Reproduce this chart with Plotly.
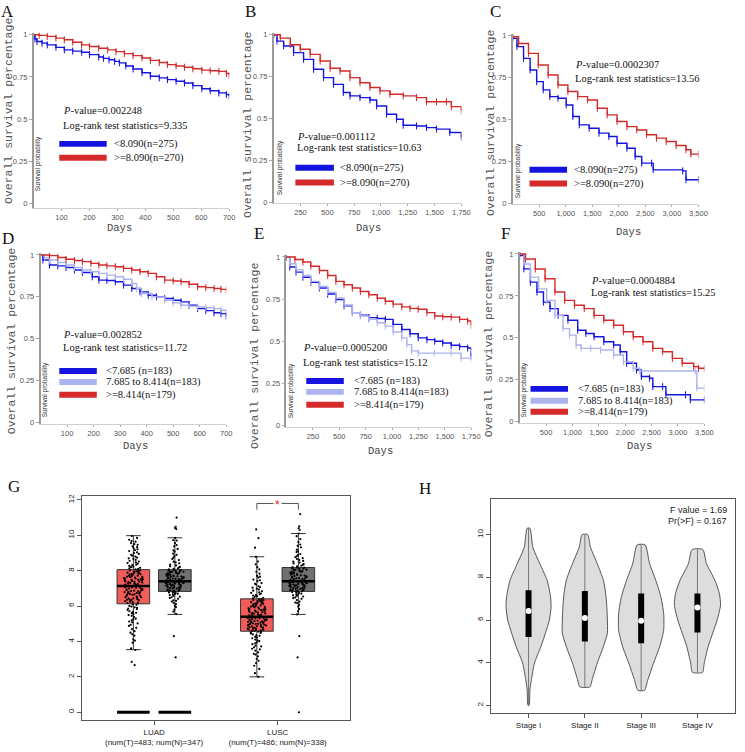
import plotly.graph_objects as go

W, H = 745, 752

# ---------------- DATA ----------------
# Kaplan-Meier curves (days, survival)
A_low_days = [0, 5, 12, 30, 49, 80, 110, 140, 172, 200, 233, 250, 270, 290, 307, 330, 356, 388, 418, 450, 479, 510, 540, 570, 602, 632, 663, 690, 700]
A_low_surv = [1.0, 0.975, 0.96, 0.95, 0.94, 0.925, 0.91, 0.903, 0.896, 0.882, 0.868, 0.86, 0.852, 0.842, 0.833, 0.815, 0.797, 0.775, 0.754, 0.744, 0.734, 0.724, 0.714, 0.698, 0.68, 0.668, 0.655, 0.645, 0.636]
A_high_days = [0, 20, 49, 80, 110, 140, 172, 200, 233, 265, 295, 325, 356, 388, 418, 450, 479, 510, 540, 570, 602, 632, 663, 690, 700]
A_high_surv = [1.0, 0.996, 0.99, 0.98, 0.97, 0.955, 0.94, 0.93, 0.92, 0.91, 0.90, 0.888, 0.876, 0.862, 0.848, 0.835, 0.823, 0.815, 0.807, 0.798, 0.79, 0.786, 0.783, 0.77, 0.758]

B_low_days = [0, 31, 93, 186, 279, 372, 465, 558, 650, 712, 805, 898, 960, 1053, 1146, 1208, 1332, 1425, 1518, 1642, 1750]
B_low_surv = [1.0, 0.962, 0.933, 0.893, 0.853, 0.794, 0.744, 0.704, 0.655, 0.635, 0.625, 0.611, 0.575, 0.526, 0.496, 0.46, 0.456, 0.446, 0.437, 0.417, 0.387]
B_high_days = [0, 62, 155, 248, 341, 434, 527, 620, 712, 805, 898, 991, 1084, 1208, 1332, 1425, 1518, 1611, 1657, 1750]
B_high_surv = [1.0, 0.98, 0.94, 0.913, 0.883, 0.843, 0.80, 0.784, 0.744, 0.714, 0.685, 0.665, 0.645, 0.635, 0.625, 0.60, 0.60, 0.60, 0.571, 0.546]

C_low_days = [0, 80, 204, 328, 451, 575, 699, 853, 1008, 1132, 1255, 1441, 1626, 1812, 1966, 2152, 2307, 2430, 2616, 2647, 3203, 3265, 3500]
C_low_surv = [0.984, 0.935, 0.865, 0.796, 0.726, 0.677, 0.637, 0.627, 0.587, 0.518, 0.468, 0.448, 0.419, 0.399, 0.359, 0.329, 0.28, 0.24, 0.24, 0.20, 0.194, 0.141, 0.141]
C_high_days = [0, 111, 297, 482, 668, 853, 1039, 1224, 1410, 1595, 1781, 1966, 2152, 2337, 2523, 2709, 2894, 3080, 3265, 3358, 3500]
C_high_surv = [0.994, 0.954, 0.895, 0.825, 0.766, 0.706, 0.667, 0.637, 0.617, 0.567, 0.528, 0.488, 0.458, 0.438, 0.409, 0.389, 0.369, 0.345, 0.32, 0.294, 0.294]

D_low_days = [0, 9, 34, 65, 96, 128, 158, 195, 220, 250, 282, 313, 344, 375, 406, 437, 468, 500, 530, 560, 592, 623, 654, 680, 700]
D_low_surv = [1.0, 0.97, 0.94, 0.935, 0.925, 0.91, 0.895, 0.87, 0.85, 0.848, 0.84, 0.82, 0.80, 0.78, 0.76, 0.75, 0.74, 0.73, 0.72, 0.70, 0.68, 0.668, 0.655, 0.65, 0.635]
D_mid_days = [0, 15, 34, 65, 96, 128, 158, 190, 220, 250, 282, 313, 344, 362, 381, 420, 468, 500, 530, 560, 592, 623, 654, 680, 700]
D_mid_surv = [1.0, 0.985, 0.97, 0.955, 0.94, 0.925, 0.91, 0.9, 0.89, 0.88, 0.87, 0.855, 0.83, 0.8, 0.77, 0.75, 0.73, 0.715, 0.70, 0.695, 0.69, 0.685, 0.68, 0.67, 0.655]
D_high_days = [0, 34, 65, 96, 128, 158, 190, 220, 250, 282, 313, 344, 375, 406, 437, 468, 500, 530, 560, 592, 623, 654, 680, 700]
D_high_surv = [1.0, 0.996, 0.985, 0.974, 0.967, 0.96, 0.95, 0.94, 0.935, 0.93, 0.92, 0.91, 0.9, 0.89, 0.87, 0.85, 0.845, 0.84, 0.825, 0.81, 0.805, 0.80, 0.795, 0.79]

E_low_days = [0, 31, 90, 156, 230, 312, 390, 468, 545, 624, 700, 780, 860, 936, 1010, 1092, 1170, 1248, 1330, 1404, 1480, 1560, 1640, 1716, 1750]
E_low_surv = [1.0, 0.94, 0.91, 0.88, 0.85, 0.816, 0.78, 0.747, 0.71, 0.67, 0.655, 0.64, 0.635, 0.63, 0.60, 0.57, 0.545, 0.52, 0.51, 0.50, 0.49, 0.476, 0.468, 0.46, 0.41]
E_mid_days = [0, 31, 90, 156, 230, 312, 390, 468, 545, 624, 700, 780, 860, 936, 1010, 1092, 1140, 1185, 1248, 1400, 1560, 1653, 1750]
E_mid_surv = [1.0, 0.96, 0.925, 0.89, 0.855, 0.825, 0.79, 0.757, 0.715, 0.67, 0.65, 0.63, 0.61, 0.59, 0.555, 0.52, 0.48, 0.443, 0.43, 0.43, 0.43, 0.40, 0.395]
E_high_days = [0, 80, 156, 230, 312, 390, 468, 545, 624, 700, 780, 860, 936, 1010, 1092, 1170, 1248, 1330, 1404, 1480, 1560, 1640, 1716, 1750]
E_high_surv = [1.0, 0.985, 0.97, 0.945, 0.92, 0.89, 0.855, 0.835, 0.816, 0.795, 0.776, 0.755, 0.737, 0.72, 0.704, 0.695, 0.69, 0.67, 0.65, 0.645, 0.643, 0.63, 0.62, 0.595]

F_low_days = [0, 80, 204, 328, 451, 575, 730, 915, 1101, 1255, 1410, 1595, 1781, 1905, 2028, 2214, 2307, 2461, 2523, 2709, 2771, 3142, 3235, 3500]
F_low_surv = [0.99, 0.911, 0.832, 0.773, 0.713, 0.674, 0.634, 0.605, 0.545, 0.526, 0.506, 0.476, 0.457, 0.417, 0.348, 0.308, 0.269, 0.259, 0.209, 0.209, 0.16, 0.16, 0.13, 0.13]
F_mid_days = [0, 80, 204, 359, 513, 668, 822, 946, 1070, 1163, 1348, 1533, 1781, 1966, 2152, 2276, 3327, 3358, 3500]
F_mid_surv = [1.0, 0.94, 0.862, 0.792, 0.723, 0.634, 0.555, 0.516, 0.457, 0.437, 0.437, 0.427, 0.397, 0.358, 0.318, 0.302, 0.302, 0.20, 0.20]
F_high_days = [0, 111, 297, 482, 668, 853, 1039, 1224, 1410, 1595, 1781, 1966, 2152, 2337, 2523, 2709, 2894, 3080, 3296, 3389, 3500]
F_high_surv = [1.0, 0.97, 0.91, 0.852, 0.773, 0.723, 0.694, 0.674, 0.634, 0.605, 0.575, 0.536, 0.506, 0.476, 0.437, 0.417, 0.377, 0.348, 0.328, 0.318, 0.318]

two_group_labels = ["<8.090(n=275)", ">=8.090(n=270)"]
three_group_labels = ["<7.685 (n=183)", "7.685 to 8.414(n=183)", ">=8.414(n=179)"]
p_values = ["0.002248", "0.001112", "0.0002307", "0.002852", "0.0005200", "0.0004884"]
logrank_stats = ["9.335", "10.63", "13.56", "11.72", "15.12", "15.25"]
km_xticks_700 = [100, 200, 300, 400, 500, 600, 700]
km_xticks_1750 = [250, 500, 750, 1000, 1250, 1500, 1750]
km_xticks_3500 = [500, 1000, 1500, 2000, 2500, 3000, 3500]
km_yticks = [0, 0.25, 0.5, 0.75, 1]
km_yticktext = ["0", "0.25", "0.5", "0.75", "1"]

# Panel G: box statistics (tumor / normal) for LUAD, LUSC
G_cancers = ["LUAD", "LUSC"]
G_cancer_labels = ["LUAD<br>(num(T)=483; num(N)=347)", "LUSC<br>(num(T)=486; num(N)=338)"]
G_T_q1 = [6.13, 4.58]; G_T_med = [7.14, 5.40]; G_T_q3 = [8.06, 6.41]; G_T_lo = [3.54, 2.00]; G_T_hi = [9.98, 8.79]
G_N_q1 = [6.83, 6.83]; G_N_med = [7.41, 7.41]; G_N_q3 = [8.06, 8.18]; G_N_lo = [5.53, 5.53]; G_N_hi = [9.86, 10.10]
G_zero_groups = ["LUAD"]  # both boxes of LUAD show a bar at 0
LUAD_T_vals = [2.66, 2.85, 3.52, 3.61, 3.93, 4.12, 4.33, 4.41, 4.58, 4.7, 4.77, 4.94, 5.02, 5.13, 5.2, 5.29, 5.38, 5.49, 5.55, 5.66,
               5.71, 5.83, 5.9, 5.97, 6.07, 6.15, 6.2, 6.24, 6.31, 6.33, 6.39, 6.42, 6.48, 6.51, 6.56, 6.6, 6.64, 6.69, 6.72, 6.77,
               6.8, 6.85, 6.88, 6.93, 6.96, 7.01, 7.03, 7.08, 7.1, 7.13, 7.16, 7.21, 7.23, 7.28, 7.31, 7.35, 7.38, 7.42, 7.45, 7.49,
               7.52, 7.56, 7.59, 7.63, 7.66, 7.71, 7.73, 7.78, 7.81, 7.86, 7.89, 7.94, 7.97, 8.02, 8.05, 8.11, 8.16, 8.23, 8.27, 8.34,
               8.4, 8.47, 8.52, 8.61, 8.67, 8.74, 8.8, 8.89, 8.95, 9.04, 9.11, 9.21, 9.28, 9.38, 9.46, 9.56, 9.64, 9.75, 9.85, 9.96,
               5.45, 5.62, 5.78, 5.86, 5.93, 6.01, 6.1, 6.17, 6.22, 6.28, 6.35, 6.37, 6.44, 6.5, 6.54, 6.62, 6.66, 6.71, 6.74, 6.79,
               6.83, 6.87, 6.91, 6.95, 6.99, 7.05, 7.09, 7.12, 7.15, 7.19, 7.25, 7.29, 7.33, 7.37, 7.4, 7.44, 7.47, 7.51, 7.54, 7.58,
               7.61, 7.65, 7.68, 7.72, 7.75, 7.8, 7.84, 7.88, 7.91, 7.96, 8.0, 8.08, 8.14, 8.2, 8.31, 8.43, 8.56, 8.7, 8.85, 9.0,
               9.16, 9.33, 9.5, 9.68, 4.05, 4.5, 4.88, 5.08, 5.25, 5.6]
LUAD_N_vals = [3.1, 4.3, 5.55, 5.69, 5.8, 5.94, 6.02, 6.11, 6.18, 6.26, 6.33, 6.41, 6.46, 6.53, 6.58, 6.64, 6.68, 6.73, 6.77, 6.81,
               6.85, 6.89, 6.92, 6.96, 6.98, 7.03, 7.05, 7.09, 7.11, 7.15, 7.17, 7.21, 7.23, 7.27, 7.29, 7.32, 7.33, 7.36, 7.37, 7.4,
               7.43, 7.47, 7.5, 7.54, 7.56, 7.61, 7.63, 7.67, 7.69, 7.73, 7.75, 7.8, 7.82, 7.87, 7.89, 7.93, 7.95, 7.99, 8.01, 8.04,
               8.1, 8.18, 8.25, 8.34, 8.42, 8.51, 8.6, 8.72, 8.82, 8.96, 9.08, 9.23, 9.38, 9.56, 9.72, 9.85, 10.35, 10.42, 10.48, 11.0,
               6.3, 6.5, 6.62, 6.7, 6.76, 6.83, 6.87, 6.9, 6.94, 7.0, 7.04, 7.07, 7.13, 7.16, 7.19, 7.22, 7.25, 7.28, 7.3, 7.34,
               7.38, 7.42, 7.45, 7.48, 7.52, 7.55, 7.58, 7.62, 7.65, 7.68, 7.71, 7.74, 7.78, 7.81, 7.85, 7.88, 7.91, 7.94, 7.97, 8.03,
               8.07, 8.14, 8.22, 8.3, 8.47, 8.66, 8.9, 9.15, 9.45, 9.7]
LUSC_T_vals = [2.0, 2.21, 2.45, 2.63, 2.78, 2.91, 3.02, 3.16, 3.26, 3.38, 3.48, 3.59, 3.67, 3.77, 3.85, 3.95, 4.02, 4.11, 4.18, 4.26,
               4.32, 4.4, 4.45, 4.52, 4.56, 4.6, 4.64, 4.67, 4.71, 4.73, 4.78, 4.8, 4.85, 4.87, 4.91, 4.94, 4.98, 5.0, 5.05, 5.07,
               5.11, 5.14, 5.18, 5.2, 5.25, 5.27, 5.31, 5.33, 5.37, 5.39, 5.43, 5.48, 5.51, 5.56, 5.59, 5.64, 5.67, 5.72, 5.75, 5.8,
               5.83, 5.88, 5.91, 5.96, 5.99, 6.04, 6.07, 6.13, 6.16, 6.21, 6.24, 6.29, 6.32, 6.37, 6.4, 6.47, 6.56, 6.62, 6.71, 6.78,
               6.87, 6.94, 7.04, 7.12, 7.22, 7.3, 7.41, 7.5, 7.61, 7.71, 7.83, 7.94, 8.07, 8.2, 8.36, 8.52, 8.78, 9.3, 9.84, 10.33,
               3.3, 3.55, 3.72, 3.9, 4.06, 4.22, 4.35, 4.48, 4.54, 4.59, 4.62, 4.66, 4.69, 4.72, 4.75, 4.79, 4.83, 4.86, 4.89, 4.92,
               4.96, 4.99, 5.02, 5.06, 5.09, 5.12, 5.16, 5.19, 5.22, 5.26, 5.29, 5.32, 5.35, 5.38, 5.41, 5.45, 5.49, 5.53, 5.57, 5.61,
               5.65, 5.69, 5.73, 5.77, 5.81, 5.85, 5.89, 5.93, 5.97, 6.01, 6.05, 6.1, 6.14, 6.18, 6.22, 6.26, 6.3, 6.34, 6.38, 6.44,
               6.52, 6.6, 6.67, 6.75, 6.84, 6.98, 7.08, 7.26, 7.46, 7.66]
LUSC_N_vals = [0.0, 3.1, 4.3, 5.53, 5.71, 5.84, 5.97, 6.07, 6.17, 6.25, 6.34, 6.41, 6.49, 6.54, 6.61, 6.65, 6.71, 6.74, 6.79, 6.81,
               6.85, 6.89, 6.91, 6.95, 6.97, 7.01, 7.03, 7.07, 7.09, 7.13, 7.15, 7.19, 7.21, 7.25, 7.27, 7.31, 7.33, 7.36, 7.37, 7.4,
               7.44, 7.49, 7.52, 7.57, 7.6, 7.65, 7.68, 7.73, 7.76, 7.81, 7.84, 7.89, 7.92, 7.97, 8.0, 8.05, 8.08, 8.12, 8.14, 8.17,
               8.24, 8.33, 8.41, 8.51, 8.6, 8.71, 8.81, 8.94, 9.05, 9.19, 9.32, 9.48, 9.62, 9.79, 9.95, 10.1, 10.3, 10.4, 10.5, 11.2,
               6.2, 6.45, 6.58, 6.68, 6.76, 6.83, 6.87, 6.9, 6.93, 6.99, 7.02, 7.05, 7.1, 7.14, 7.17, 7.2, 7.23, 7.26, 7.29, 7.32,
               7.39, 7.42, 7.46, 7.5, 7.54, 7.58, 7.62, 7.66, 7.7, 7.74, 7.78, 7.82, 7.86, 7.9, 7.94, 7.98, 8.02, 8.06, 8.1, 8.16,
               8.2, 8.28, 8.37, 8.46, 8.55, 8.66, 8.76, 8.88, 9.1, 9.4]
G_yticks = [0, 2, 4, 6, 8, 10, 12]

# Panel H: violin outlines (expression level, half width) per stage
H_stages = ["Stage I", "Stage II", "Stage III", "Stage IV"]
H_levels = [
    [2.0, 2.74, 3.21, 3.98, 4.76, 5.38, 6.0, 6.62, 7.09, 7.86, 8.64, 9.41, 10.3],
    [2.87, 3.21, 3.98, 4.76, 5.38, 6.0, 6.62, 7.24, 7.86, 8.64, 9.41, 10.0],
    [2.71, 3.21, 3.98, 4.76, 5.53, 6.31, 7.09, 7.86, 8.64, 9.52],
    [3.55, 3.98, 4.76, 5.38, 6.0, 6.7, 7.24, 7.86, 8.64, 9.3],
]
H_halfwidths = [
    [0.01, 0.025, 0.05, 0.105, 0.22, 0.30, 0.37, 0.40, 0.39, 0.33, 0.20, 0.076, 0.025],
    [0.09, 0.13, 0.22, 0.33, 0.40, 0.40, 0.39, 0.37, 0.33, 0.22, 0.10, 0.05],
    [0.06, 0.12, 0.22, 0.33, 0.40, 0.40, 0.35, 0.26, 0.15, 0.07],
    [0.09, 0.12, 0.19, 0.27, 0.35, 0.41, 0.39, 0.31, 0.16, 0.095],
]
H_q1 = [5.2, 4.99, 4.91, 5.41]
H_q3 = [7.4, 7.36, 7.24, 7.24]
H_median = [6.42, 6.1, 5.97, 6.59]
H_yticks = [2, 4, 6, 8, 10]
H_stat_lines = ["F value = 1.69", "Pr(>F) = 0.167"]

panel_letters = ["A", "B", "C", "D", "E", "F", "G", "H"]

# ---------------- STYLE / LAYOUT ----------------
BLUE = "#1414e0"
RED = "#d42a2a"
LIGHT = "#adb3ee"
SERIF = "Liberation Serif"
SANS = "Liberation Sans"
MONO = "Liberation Mono"


def fx(px):
    return px / W


def fy(py):
    return 1 - py / H


fig = go.Figure()
annotations = []
shapes = []

km_panels = [
    dict(x0=34, x1=232, y1=33, y0=203, yb=208, xmax=700, xt=km_xticks_700,
         curves=[(A_low_days, A_low_surv, BLUE), (A_high_days, A_high_surv, RED)],
         labels=two_group_labels, colors=[BLUE, RED],
         ptxt=(62, 109, 124), leg=(60, 108, 113, [143, 157]),
         ytitle=(8, 110), days=(121, 228), sp=(38, 163)),
    dict(x0=277, x1=467, y1=33, y0=202, yb=203, xmax=1750, xt=km_xticks_1750,
         curves=[(B_low_days, B_low_surv, BLUE), (B_high_days, B_high_surv, RED)],
         labels=two_group_labels, colors=[BLUE, RED],
         ptxt=(299, 136, 147), leg=(299, 338, 342, [167, 182]),
         ytitle=(250, 124), days=(373, 228), sp=(283, 167)),
    dict(x0=519, x1=707, y1=34, y0=203, yb=204, xmax=3500, xt=km_xticks_3500,
         curves=[(C_low_days, C_low_surv, BLUE), (C_high_days, C_high_surv, RED)],
         labels=two_group_labels, colors=[BLUE, RED],
         ptxt=(580, 63, 77), leg=(536, 574, 579, [169, 183]),
         ytitle=(496, 122), days=(636, 232), sp=(524, 170)),
    dict(x0=41, x1=229, y1=255, y0=424, yb=425, xmax=700, xt=km_xticks_700,
         curves=[(D_low_days, D_low_surv, BLUE), (D_mid_days, D_mid_surv, LIGHT), (D_high_days, D_high_surv, RED)],
         labels=three_group_labels, colors=[BLUE, LIGHT, RED],
         ptxt=(62, 335, 348), leg=(60, 98, 105, [372, 383, 396]),
         ytitle=(11, 342), days=(137, 448), sp=(45, 391)),
    dict(x0=290, x1=477, y1=257, y0=427, yb=428, xmax=1750, xt=km_xticks_1750,
         curves=[(E_low_days, E_low_surv, BLUE), (E_mid_days, E_mid_surv, LIGHT), (E_high_days, E_high_surv, RED)],
         labels=three_group_labels, colors=[BLUE, LIGHT, RED],
         ptxt=(305, 348, 363), leg=(310, 348, 356, [382, 393, 406]),
         ytitle=(257, 357), days=(385, 453), sp=(294, 392)),
    dict(x0=526, x1=713, y1=254, y0=423, yb=424, xmax=3500, xt=km_xticks_3500,
         curves=[(F_low_days, F_low_surv, BLUE), (F_mid_days, F_mid_surv, LIGHT), (F_high_days, F_high_surv, RED)],
         labels=three_group_labels, colors=[BLUE, LIGHT, RED],
         ptxt=(596, 281, 293), leg=(537, 575, 583, [390, 402, 413]),
         ytitle=(494, 345), days=(647, 448), sp=(530, 391)),
]

layout_axes = {}
for i, p in enumerate(km_panels):
    n = i + 1
    xa = "xaxis" if n == 1 else f"xaxis{n}"
    ya = "yaxis" if n == 1 else f"yaxis{n}"
    xr = "x" if n == 1 else f"x{n}"
    yr = "y" if n == 1 else f"y{n}"
    scale = p["y0"] - p["y1"]
    ymin = -(p["yb"] - p["y0"]) / scale
    ytop = p["y1"] - 0.012 * scale
    layout_axes[xa] = dict(domain=[fx(p["x0"]), fx(p["x1"])], range=[0, p["xmax"]], anchor=yr,
                           tickvals=p["xt"], tickformat=",", showline=True, linecolor="#cfcfcf", linewidth=1,
                           ticks="outside", ticklen=2, tickcolor="#aaa", showgrid=False, zeroline=False,
                           tickfont=dict(family=SANS, size=7.5, color="#555"))
    layout_axes[ya] = dict(domain=[fy(p["yb"]), fy(ytop)], range=[ymin, 1.012], anchor=xr,
                           tickvals=km_yticks, ticktext=km_yticktext, showline=True, linecolor="#9a9a9a",
                           linewidth=1.5, ticks="outside", ticklen=3, tickcolor="#aaa", showgrid=False,
                           zeroline=False, tickfont=dict(family=SANS, size=7.5, color="#555"))
    for days, surv, col in p["curves"]:
        fig.add_trace(go.Scatter(x=days, y=surv, xaxis=xr, yaxis=yr, mode="lines+markers",
                                 line=dict(color=col, width=1.4, shape="hv"),
                                 marker=dict(symbol="line-ns", size=5, line=dict(width=1, color=col)),
                                 showlegend=False, hoverinfo="skip"))
    px0, py1, py2 = p["ptxt"]
    annotations.append(dict(x=fx(px0), y=fy(py1), xref="paper", yref="paper", xanchor="left", yanchor="middle",
                            text=f"<i>P</i>-value={p_values[i]}", showarrow=False,
                            font=dict(family=SERIF, size=10.5, color="#111")))
    annotations.append(dict(x=fx(px0), y=fy(py2), xref="paper", yref="paper", xanchor="left", yanchor="middle",
                            text=f"Log-rank test statistics={logrank_stats[i]}", showarrow=False,
                            font=dict(family=SERIF, size=10.5, color="#111")))
    lx0, lx1, ltx, lys = p["leg"]
    for lab, col, ly in zip(p["labels"], p["colors"], lys):
        shapes.append(dict(type="rect", xref="paper", yref="paper", x0=fx(lx0), x1=fx(lx1),
                           y0=fy(ly + 3), y1=fy(ly - 3), fillcolor=col, line=dict(width=0)))
        annotations.append(dict(x=fx(ltx), y=fy(ly), xref="paper", yref="paper", xanchor="left", yanchor="middle",
                                text=lab, showarrow=False, font=dict(family=SERIF, size=10.5, color="#111")))
    tx, ty = p["ytitle"]
    annotations.append(dict(x=fx(tx), y=fy(ty), xref="paper", yref="paper", xanchor="center", yanchor="middle",
                            text="Overall survival percentage", textangle=-90, showarrow=False,
                            font=dict(family=MONO, size=11.5, color="#555")))
    dx, dy = p["days"]
    annotations.append(dict(x=fx(dx), y=fy(dy), xref="paper", yref="paper", xanchor="center", yanchor="middle",
                            text="Days", showarrow=False, font=dict(family=MONO, size=10.5, color="#444")))
    sx, sy = p["sp"]
    annotations.append(dict(x=fx(sx), y=fy(sy), xref="paper", yref="paper", xanchor="center", yanchor="middle",
                            text="Survival probability", textangle=-90, showarrow=False,
                            font=dict(family=SANS, size=6.5, color="#333")))

# ---------------- Panel G ----------------
G_BOX_W = 0.264
G_OFF = 0.168
g_pos = [1, 2]
t_pos = [c - G_OFF for c in g_pos]
n_pos = [c + G_OFF for c in g_pos]
layout_axes["xaxis7"] = dict(domain=[fx(83), fx(354)], range=[0.416, 2.584], anchor="y7",
                             tickvals=g_pos, ticktext=G_cancer_labels, showline=True, mirror=True,
                             linecolor="#555", linewidth=1, ticks="outside", ticklen=4, tickcolor="#555",
                             showgrid=False, zeroline=False, tickfont=dict(family=SANS, size=8, color="#222"))
layout_axes["yaxis7"] = dict(domain=[fy(724), fy(498)], range=[-0.45, 12.22], anchor="x7",
                             tickvals=G_yticks, showline=True, mirror=True, linecolor="#555", linewidth=1,
                             ticks="outside", ticklen=4, tickcolor="#555", tickangle=-90, showgrid=False,
                             zeroline=False, tickfont=dict(family=SANS, size=8, color="#222"))

for pos, q1, med, q3, lo, hi, col in [
    (t_pos, G_T_q1, G_T_med, G_T_q3, G_T_lo, G_T_hi, "#f45b5b"),
    (n_pos, G_N_q1, G_N_med, G_N_q3, G_N_lo, G_N_hi, "#707070"),
]:
    fig.add_trace(go.Box(x=pos, q1=q1, median=med, q3=q3, lowerfence=lo, upperfence=hi,
                         xaxis="x7", yaxis="y7", width=G_BOX_W, fillcolor=col, whiskerwidth=0.45,
                         line=dict(color="#333", width=1), boxpoints=False, showlegend=False, hoverinfo="skip"))

for pos, vals in [(t_pos[0], LUAD_T_vals), (n_pos[0], LUAD_N_vals), (t_pos[1], LUSC_T_vals), (n_pos[1], LUSC_N_vals)]:
    fig.add_trace(go.Box(x=[pos] * len(vals), y=vals, xaxis="x7", yaxis="y7", width=G_BOX_W,
                         boxpoints="all", jitter=0.6, pointpos=0, fillcolor="rgba(0,0,0,0)",
                         line=dict(width=0, color="rgba(0,0,0,0)"),
                         marker=dict(size=2.2, color="#000"), showlegend=False, hoverinfo="skip"))

for pos, med in [(t_pos, G_T_med), (n_pos, G_N_med)]:
    for c, m in zip(pos, med):
        fig.add_trace(go.Scatter(x=[c - G_BOX_W / 2, c + G_BOX_W / 2], y=[m, m], xaxis="x7", yaxis="y7",
                                 mode="lines", line=dict(color="#000", width=2.5), showlegend=False,
                                 hoverinfo="skip"))
for grp in G_zero_groups:
    k = G_cancers.index(grp)
    for c in (t_pos[k], n_pos[k]):
        fig.add_trace(go.Scatter(x=[c - G_BOX_W / 2, c + G_BOX_W / 2], y=[0, 0], xaxis="x7", yaxis="y7",
                                 mode="lines", line=dict(color="#000", width=3), showlegend=False,
                                 hoverinfo="skip"))
k = G_cancers.index("LUSC")
fig.add_trace(go.Scatter(x=[t_pos[k], t_pos[k], n_pos[k], n_pos[k]], y=[11.45, 11.8, 11.8, 11.45],
                         xaxis="x7", yaxis="y7", mode="lines", line=dict(color="#555", width=1),
                         showlegend=False, hoverinfo="skip"))
annotations.append(dict(x=g_pos[k], y=11.8, xref="x7", yref="y7", text="*", showarrow=False,
                        bgcolor="white", font=dict(family=SANS, size=12, color="#e02020"), yshift=-2))

# ---------------- Panel H ----------------
h_pos = [1, 2, 3, 4]
layout_axes["xaxis8"] = dict(domain=[fx(497), fx(744)], range=[0.333, 4.667], anchor="y8",
                             tickvals=h_pos, ticktext=H_stages, showline=True, mirror=True,
                             linecolor="#555", linewidth=1, ticks="outside", ticklen=4, tickcolor="#555",
                             showgrid=False, zeroline=False, tickfont=dict(family=SANS, size=8, color="#222"))
layout_axes["yaxis8"] = dict(domain=[fy(717), fy(501)], range=[1.63, 11.67], anchor="x8",
                             tickvals=H_yticks, showline=True, mirror=True, linecolor="#555", linewidth=1,
                             ticks="outside", ticklen=4, tickcolor="#555", tickangle=-90, showgrid=False,
                             zeroline=False, tickfont=dict(family=SANS, size=8, color="#222"))

for c, lev, hw, q1, q3, med in zip(h_pos, H_levels, H_halfwidths, H_q1, H_q3, H_median):
    xs = [c - w for w in hw] + [c + w for w in reversed(hw)]
    ys = list(lev) + list(reversed(lev))
    xs.append(xs[0]); ys.append(ys[0])
    fig.add_trace(go.Scatter(x=xs, y=ys, xaxis="x8", yaxis="y8", mode="lines", fill="toself",
                             fillcolor="#dddddd", line=dict(color="#555", width=1, shape="spline", smoothing=0.6),
                             showlegend=False, hoverinfo="skip"))
    fig.add_trace(go.Scatter(x=[c, c], y=[lev[0], lev[-1]], xaxis="x8", yaxis="y8", mode="lines",
                             line=dict(color="#777", width=1), showlegend=False, hoverinfo="skip"))
    fig.add_trace(go.Scatter(x=[c, c], y=[q1, q3], xaxis="x8", yaxis="y8", mode="lines",
                             line=dict(color="#000", width=6), showlegend=False, hoverinfo="skip"))
    fig.add_trace(go.Scatter(x=[c], y=[med], xaxis="x8", yaxis="y8", mode="markers",
                             marker=dict(color="white", size=6), showlegend=False, hoverinfo="skip"))

annotations.append(dict(x=fx(738), y=fy(512), xref="paper", yref="paper", xanchor="right", yanchor="middle",
                        text=H_stat_lines[0], showarrow=False, font=dict(family=SANS, size=9, color="#222")))
annotations.append(dict(x=fx(738), y=fy(523), xref="paper", yref="paper", xanchor="right", yanchor="middle",
                        text=H_stat_lines[1], showarrow=False, font=dict(family=SANS, size=9, color="#222")))

letter_pos = [(8, 10), (254, 10), (502, 10), (8, 238), (262, 233), (512, 233), (14, 488), (430, 490)]
for lt, (lx, ly) in zip(panel_letters, letter_pos):
    annotations.append(dict(x=fx(lx), y=fy(ly), xref="paper", yref="paper", xanchor="center", yanchor="middle",
                            text=lt, showarrow=False, font=dict(family=SERIF, size=17, color="#111")))

fig.update_layout(width=W, height=H, margin=dict(l=0, r=0, t=0, b=0), paper_bgcolor="white",
                  plot_bgcolor="white", showlegend=False, annotations=annotations, shapes=shapes,
                  boxmode="overlay", **layout_axes)

fig.write_html("out.html", config={"displayModeBar": False},
               post_script="document.body.style.margin='0px';")
